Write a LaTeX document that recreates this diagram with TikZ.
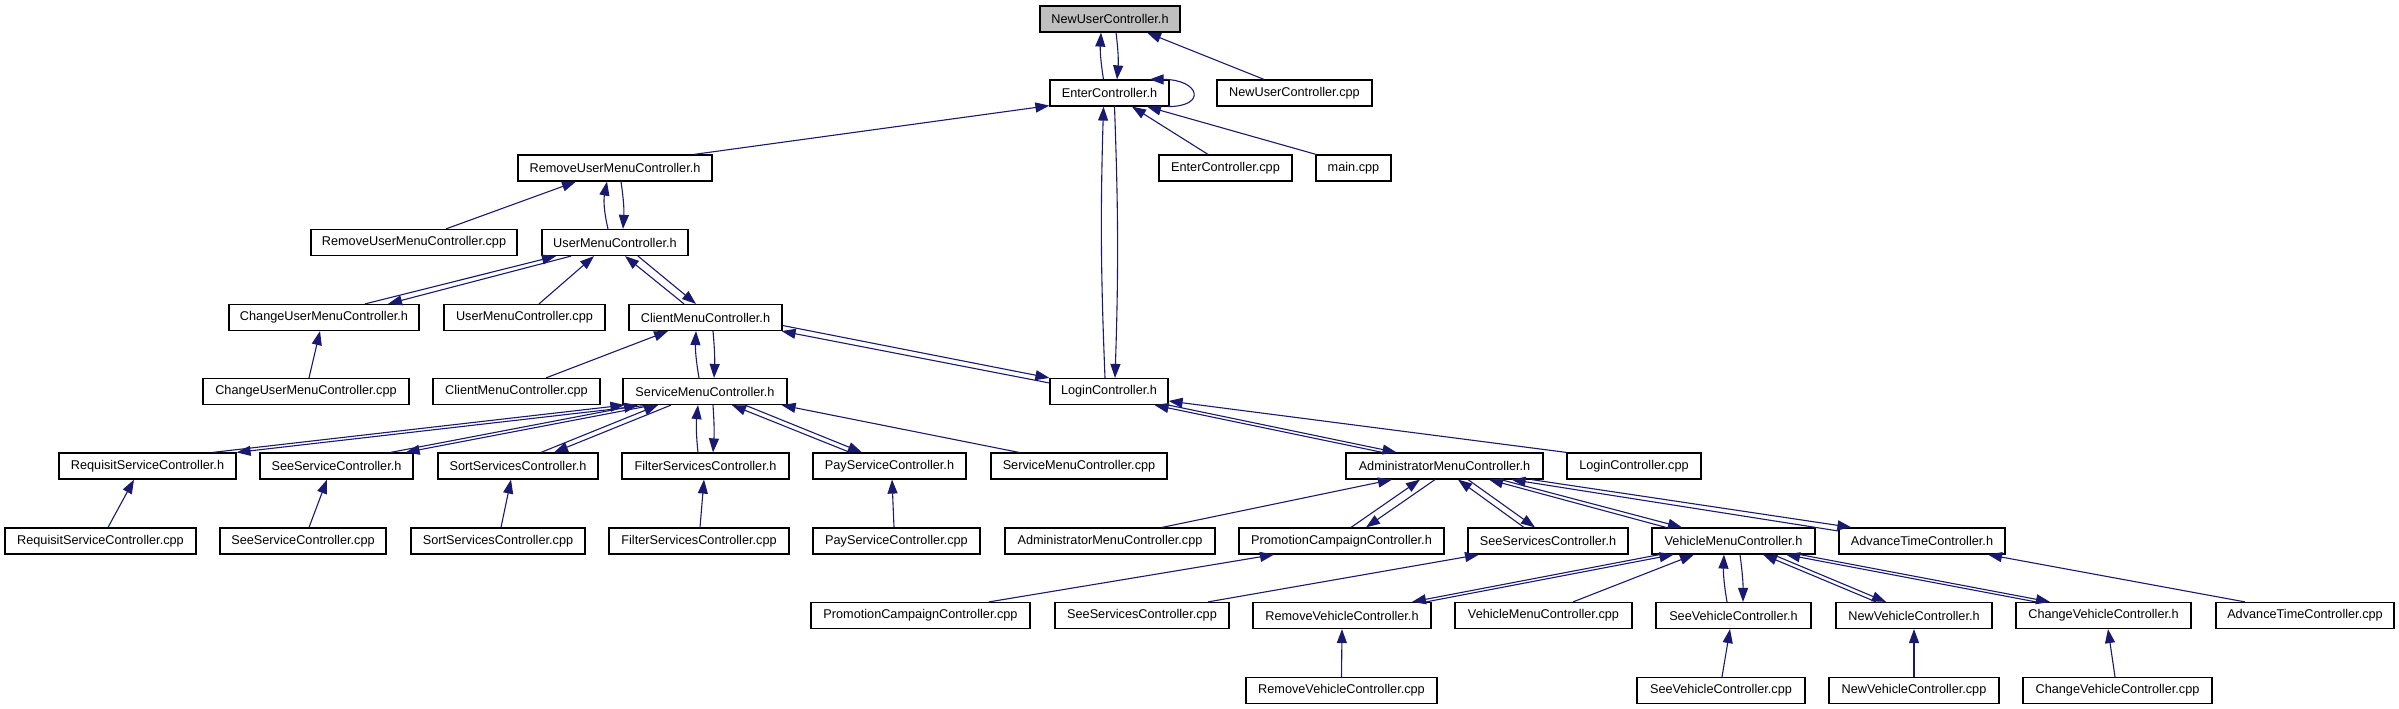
\documentclass[tikz,border=0pt]{standalone}
\usepackage{fontspec}
\setmainfont{Liberation Sans}
\usetikzlibrary{arrows.meta}
\definecolor{edgeblue}{HTML}{191970}
\definecolor{rootgray}{HTML}{BFBFBF}
\begin{document}
\begin{tikzpicture}[x=1pt,y=-1pt,
  box/.style={draw=black, line width=1.2pt, minimum height=26pt, inner sep=0pt, fill=white,
    font=\fontsize{12.7}{14}\selectfont},
  arr/.style={draw=edgeblue, line width=1.1pt, -{Triangle[length=14pt,width=10pt]}}]
\fill[white] (0,0) rectangle (2399,709);
\useasboundingbox (0,0) rectangle (2399,709);
% row 0
\node[box, fill=rootgray, minimum width=140pt] (NUCh) at (1110,19) {NewUserController.h};
% row 1
\node[box, minimum width=119pt] (ECh) at (1109.5,93) {EnterController.h};
\node[box, minimum width=155pt] (NUCcpp) at (1294.5,93) {NewUserController.cpp};
% row 2
\node[box, minimum width=194pt] (RUMCh) at (615,168) {RemoveUserMenuController.h};
\node[box, minimum width=133pt] (ECcpp) at (1225.5,168) {EnterController.cpp};
\node[box, minimum width=75pt] (maincpp) at (1353.5,168) {main.cpp};
% row 3
\node[box, minimum width=206pt] (RUMCcpp) at (414,242.5) {RemoveUserMenuController.cpp};
\node[box, minimum width=146pt] (UMCh) at (615,242.5) {UserMenuController.h};
% row 4
\node[box, minimum width=190pt] (CUMCh) at (324,317.5) {ChangeUserMenuController.h};
\node[box, minimum width=161pt] (UMCcpp) at (524.5,317.5) {UserMenuController.cpp};
\node[box, minimum width=153pt] (CMCh) at (705.5,317.5) {ClientMenuController.h};
% row 5
\node[box, minimum width=206pt] (CUMCcpp) at (306,391.5) {ChangeUserMenuController.cpp};
\node[box, minimum width=167pt] (CMCcpp) at (516.5,391.5) {ClientMenuController.cpp};
\node[box, minimum width=164pt] (SMCh) at (705,391.5) {ServiceMenuController.h};
\node[box, minimum width=118pt] (LCh) at (1109,391.5) {LoginController.h};
% row 6
\node[box, minimum width=177pt] (RSCh) at (147.5,466) {RequisitServiceController.h};
\node[box, minimum width=153pt] (SSCh) at (336.5,466) {SeeServiceController.h};
\node[box, minimum width=160pt] (SortSCh) at (518,466) {SortServicesController.h};
\node[box, minimum width=167pt] (FSCh) at (705.5,466) {FilterServicesController.h};
\node[box, minimum width=153pt] (PSCh) at (889.5,466) {PayServiceController.h};
\node[box, minimum width=176pt] (SMCcpp) at (1079,466) {ServiceMenuController.cpp};
\node[box, minimum width=197pt] (AMCh) at (1444.5,466) {AdministratorMenuController.h};
\node[box, minimum width=134pt] (LCcpp) at (1634,466) {LoginController.cpp};
% row 7
\node[box, minimum width=191pt] (RSCcpp) at (100.5,541) {RequisitServiceController.cpp};
\node[box, minimum width=166pt] (SSCcpp) at (303,541) {SeeServiceController.cpp};
\node[box, minimum width=174pt] (SortSCcpp) at (498,541) {SortServicesController.cpp};
\node[box, minimum width=180pt] (FSCcpp) at (699,541) {FilterServicesController.cpp};
\node[box, minimum width=167pt] (PSCcpp) at (896.5,541) {PayServiceController.cpp};
\node[box, minimum width=210pt] (AMCcpp) at (1110,541) {AdministratorMenuController.cpp};
\node[box, minimum width=205pt] (PCCh) at (1341.5,541) {PromotionCampaignController.h};
\node[box, minimum width=160pt] (SeeSvcCh) at (1548,541) {SeeServicesController.h};
\node[box, minimum width=163pt] (VMCh) at (1733.5,541) {VehicleMenuController.h};
\node[box, minimum width=166pt] (ATCh) at (1922,541) {AdvanceTimeController.h};
% row 8
\node[box, minimum width=219pt] (PCCcpp) at (920.5,615.5) {PromotionCampaignController.cpp};
\node[box, minimum width=174pt] (SeeSvcCcpp) at (1142,615.5) {SeeServicesController.cpp};
\node[box, minimum width=178pt] (RVCh) at (1342,615.5) {RemoveVehicleController.h};
\node[box, minimum width=177pt] (VMCcpp) at (1543.5,615.5) {VehicleMenuController.cpp};
\node[box, minimum width=155pt] (SVCh) at (1733.5,615.5) {SeeVehicleController.h};
\node[box, minimum width=156pt] (NVCh) at (1914,615.5) {NewVehicleController.h};
\node[box, minimum width=175pt] (CVCh) at (2103.5,615.5) {ChangeVehicleController.h};
\node[box, minimum width=178pt] (ATCcpp) at (2305,615.5) {AdvanceTimeController.cpp};
% row 9
\node[box, minimum width=191pt] (RVCcpp) at (1341.5,690.5) {RemoveVehicleController.cpp};
\node[box, minimum width=168pt] (SVCcpp) at (1721,690.5) {SeeVehicleController.cpp};
\node[box, minimum width=170pt] (NVCcpp) at (1914,690.5) {NewVehicleController.cpp};
\node[box, minimum width=189pt] (CVCcpp) at (2117.5,690.5) {ChangeVehicleController.cpp};

% ---- edges ----
\draw[arr] ([xshift=-6pt]ECh.north) to[bend left=6] ([xshift=-9pt]NUCh.south);
\draw[arr] ([xshift=6pt]NUCh.south) to[bend left=6] ([xshift=7.5pt]ECh.north);
\draw[arr] ([xshift=-30.5pt]NUCcpp.north) -- ([xshift=37pt]NUCh.south);
\draw[arr] ([xshift=-2pt]ECh.south east) .. controls ([xshift=38pt]ECh.south east) and ([xshift=30pt]ECh.north east) .. ([xshift=-20pt]ECh.north east);
\draw[arr] ([xshift=79pt]RUMCh.north) -- ([yshift=1pt]ECh.south west);
\draw[arr] ([xshift=-17.5pt]ECcpp.north) -- ([xshift=22.5pt]ECh.south);
\draw[arr] ([xshift=-37.5pt]maincpp.north) -- ([xshift=37.5pt]ECh.south);
\draw[arr] ([xshift=-4pt]LCh.north) to[bend left=2] ([xshift=-6pt]ECh.south);
\draw[arr] ([xshift=5pt]ECh.south) to[bend left=2] ([xshift=6pt]LCh.north);

\draw[arr] ([xshift=32pt]RUMCcpp.north) -- ([xshift=-39pt]RUMCh.south);
\draw[arr] ([xshift=-7pt]UMCh.north) to[bend left=12] ([xshift=-8pt]RUMCh.south);
\draw[arr] ([xshift=6pt]RUMCh.south) to[bend left=6] ([xshift=8pt]UMCh.north);

\draw[arr] ([xshift=41pt]CUMCh.north) -- ([xshift=-59pt]UMCh.south);
\draw[arr] ([xshift=-44pt]UMCh.south) -- ([xshift=64pt]CUMCh.north);
\draw[arr] ([xshift=14.5pt]UMCcpp.north) -- ([xshift=-21pt]UMCh.south);
\draw[arr] ([xshift=-21.5pt]CMCh.north) -- ([xshift=10pt]UMCh.south);
\draw[arr] ([xshift=23pt]UMCh.south) -- ([xshift=-9.5pt]CMCh.north);

\draw[arr] ([xshift=3pt]CUMCcpp.north) -- ([xshift=-4pt]CUMCh.south);
\draw[arr] ([xshift=29.5pt]CMCcpp.north) -- ([xshift=-37.5pt]CMCh.south);
\draw[arr] ([xshift=-6pt]SMCh.north) to[bend left=6] ([xshift=-9.5pt]CMCh.south);
\draw[arr] ([xshift=7.5pt]CMCh.south) to[bend left=4] ([xshift=9pt]SMCh.north);
\draw[arr] ([yshift=8.5pt]LCh.west) -- ([xshift=-1pt]CMCh.south east);
\draw[arr] ([yshift=-8pt]CMCh.east) -- (LCh.north west);

\draw[arr] ([xshift=-24pt]RSCh.north east) -- ([xshift=2pt]SMCh.south west);
\draw[arr] ([xshift=26pt]SMCh.south west) -- (RSCh.north east);
\draw[arr] ([xshift=-23pt]SSCh.north east) -- ([xshift=-67pt]SMCh.south);
\draw[arr] ([xshift=-52pt]SMCh.south) -- ([xshift=-8pt]SSCh.north east);
\draw[arr] ([xshift=23pt]SortSCh.north) -- ([xshift=-47pt]SMCh.south);
\draw[arr] ([xshift=-34pt]SMCh.south) -- ([xshift=36pt]SortSCh.north);
\draw[arr] ([xshift=-7.5pt]FSCh.north) to[bend left=6] ([xshift=-7pt]SMCh.south);
\draw[arr] ([xshift=8pt]SMCh.south) to[bend left=4] ([xshift=7.5pt]FSCh.north);
\draw[arr] ([xshift=-39.5pt]PSCh.north) -- ([xshift=27pt]SMCh.south);
\draw[arr] ([xshift=40pt]SMCh.south) -- ([xshift=-27.5pt]PSCh.north);
\draw[arr] ([xshift=-60pt]SMCcpp.north) -- ([xshift=-6pt]SMCh.south east);

\draw[arr] ([xshift=7.5pt]RSCcpp.north) -- ([xshift=-13.5pt]RSCh.south);
\draw[arr] ([xshift=6pt]SSCcpp.north) -- ([xshift=-9.5pt]SSCh.south);
\draw[arr] ([xshift=3pt]SortSCcpp.north) -- ([xshift=-7pt]SortSCh.south);
\draw[arr] ([xshift=1pt]FSCcpp.north) -- ([xshift=-1.5pt]FSCh.south);
\draw[arr] ([xshift=-2.5pt]PSCcpp.north) -- ([xshift=2.5pt]PSCh.south);

\draw[arr] ([xshift=-62pt]AMCh.north) -- ([xshift=-14pt]LCh.south east);
\draw[arr] (LCh.south east) -- ([xshift=-48pt]AMCh.north);
\draw[arr] (LCcpp.north west) -- ([yshift=-9.5pt]LCh.east);

\draw[arr] ([xshift=52pt]AMCcpp.north) -- ([xshift=-52.5pt]AMCh.south);
\draw[arr] ([xshift=9.5pt]PCCh.north) -- ([xshift=-24.5pt]AMCh.south);
\draw[arr] ([xshift=-9.5pt]AMCh.south) -- ([xshift=24.5pt]PCCh.north);
\draw[arr] ([xshift=-24pt]SeeSvcCh.north) -- ([xshift=13.5pt]AMCh.south);
\draw[arr] ([xshift=23.5pt]AMCh.south) -- ([xshift=-13pt]SeeSvcCh.north);
\draw[arr] ([xshift=-67.5pt]VMCh.north) -- ([xshift=44.5pt]AMCh.south);
\draw[arr] ([xshift=56pt]AMCh.south) -- ([xshift=-51.5pt]VMCh.north);
\draw[arr] ([yshift=10pt]ATCh.west) -- ([xshift=-32pt]AMCh.south east);
\draw[arr] ([xshift=-12pt]AMCh.south east) -- ([xshift=13pt]ATCh.north west);

\draw[arr] ([xshift=68.5pt]PCCcpp.north) -- ([xshift=-67.5pt]PCCh.south);
\draw[arr] ([xshift=66pt]SeeSvcCcpp.north) -- ([xshift=-69pt]SeeSvcCh.south);
\draw[arr] ([xshift=-74pt]VMCh.south) -- ([xshift=70pt]RVCh.north);
\draw[arr] ([xshift=84pt]RVCh.north) -- ([xshift=-60pt]VMCh.south);
\draw[arr] ([xshift=29.5pt]VMCcpp.north) -- ([xshift=-39.5pt]VMCh.south);
\draw[arr] ([xshift=-6.5pt]SVCh.north) to[bend left=6] ([xshift=-9.5pt]VMCh.south);
\draw[arr] ([xshift=6.5pt]VMCh.south) to[bend left=4] ([xshift=9.5pt]SVCh.north);
\draw[arr] ([xshift=-38pt]NVCh.north) -- ([xshift=29.5pt]VMCh.south);
\draw[arr] ([xshift=39.5pt]VMCh.south) -- ([xshift=-28pt]NVCh.north);
\draw[arr] ([xshift=-67.5pt]CVCh.north) -- ([xshift=52.5pt]VMCh.south);
\draw[arr] ([xshift=66.5pt]VMCh.south) -- ([xshift=-53.5pt]CVCh.north);
\draw[arr] ([xshift=-60pt]ATCcpp.north) -- ([xshift=66pt]ATCh.south);

\draw[arr] (RVCcpp.north) -- (RVCh.south);
\draw[arr] ([xshift=1pt]SVCcpp.north) -- ([xshift=-3.5pt]SVCh.south);
\draw[arr] (NVCcpp.north) -- (NVCh.south);
\draw[arr] ([xshift=-2.5pt]CVCcpp.north) -- ([xshift=4.5pt]CVCh.south);
\end{tikzpicture}
\end{document}
